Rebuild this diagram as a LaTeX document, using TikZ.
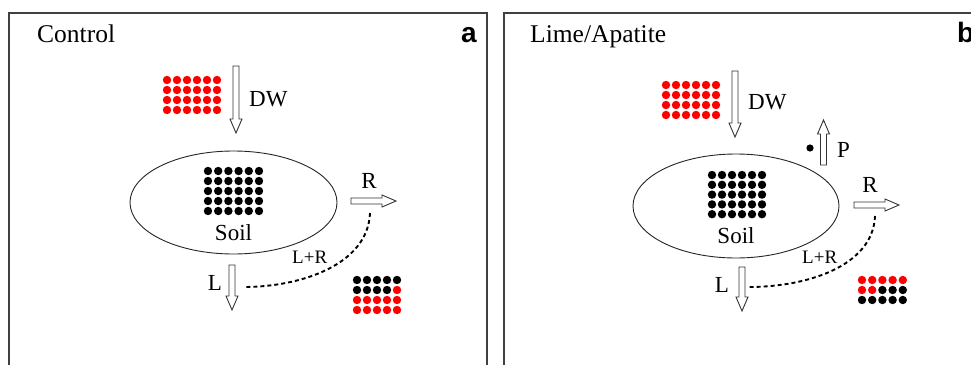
\documentclass[tikz,border=0pt]{standalone}
\usepackage{fontspec}
\setmainfont{Liberation Serif}
\newfontfamily\labsans{Liberation Sans}
\begin{document}
\begin{tikzpicture}[x=1pt,y=-1pt,
  frameline/.style={line width=1.4pt,draw=black!75},
  soilline/.style={line width=0.9pt,draw=black!85},
  arrowline/.style={line width=0.9pt,draw=black!80,fill=white},
  flowline/.style={line width=1.9pt,dash pattern=on 4pt off 3pt},
  title/.style={font=\fontsize{25.5}{28}\selectfont,inner sep=0pt},
  panel/.style={font=\labsans\bfseries\fontsize{28}{30}\selectfont,inner sep=0pt},
  lab/.style={font=\fontsize{23}{25}\selectfont,inner sep=0pt},
  smalllab/.style={font=\fontsize{19}{21}\selectfont,inner sep=0pt}]
\useasboundingbox (0,0) rectangle (971,364);
\clip (0,0) rectangle (971,364);
\fill[white] (0,0) rectangle (971,364);

% hollow arrow: x y length angle
\newcommand\hollowarrow[4]{%
  \begin{scope}[shift={(#1,#2)},rotate=#4]
    \draw[arrowline] (0,-3) -- (#3-14,-3) -- (#3-14,-6) -- (#3,0) -- (#3-14,6) -- (#3-14,3) -- (0,3) -- cycle;
  \end{scope}}
\newcommand\dotrow[6]{% x0 y dx n colour radius
  \foreach \i in {1,...,#4} {\fill[#5] ({#1+(\i-1)*#3},#2) circle (#6);}}

% ---------- frames ----------
\draw[frameline] (9,420) -- (9,13) -- (487,13) -- (487,420);
\draw[frameline] (504,420) -- (504,13) -- (1000,13);

% ---------- panel a ----------
\node[title,anchor=base west] (ttla) at (37,42) {Control};
\node[panel,anchor=base east] (pa) at (477,42) {a};

\foreach \j in {0,...,3} {\dotrow{167}{80+10*\j}{10}{6}{red}{4.2}}
\hollowarrow{236}{66}{67}{-90}
\node[lab,anchor=base west] (dwa) at (249,106) {DW};

\draw[soilline] (233.5,202.5) ellipse [x radius=103.5, y radius=51.5];
\foreach \j in {0,...,4} {\dotrow{208}{171+10*\j}{10.2}{6}{black}{4.2}}
\node[lab,anchor=base] (soila) at (233.5,240) {Soil};

\hollowarrow{351}{201}{45}{0}
\node[lab,anchor=base] (ra) at (369,188) {R};

\hollowarrow{232}{265}{45}{-90}
\node[lab,anchor=base east] (la) at (222,290) {L};

\node[smalllab,anchor=base west] (lra) at (292,263) {L+R};
\draw[flowline] (370,213) .. controls (368,265) and (300,287) .. (244,287);

\dotrow{357}{280}{10}{5}{black}{4.2}
\dotrow{357}{290}{10}{4}{black}{4.2}
\fill[red] (397,290) circle (4.2);
\dotrow{357}{300}{10}{5}{red}{4.2}
\dotrow{357}{310}{10}{5}{red}{4.2}

% ---------- panel b ----------
\node[title,anchor=base west] (ttlb) at (530,42) {Lime/Apatite};
\node[panel,anchor=base west] (pb) at (957,42) {b};

\foreach \j in {0,...,3} {\dotrow{666}{85+10*\j}{10}{6}{red}{4.2}}
\hollowarrow{735}{71}{66}{-90}
\node[lab,anchor=base west] (dwb) at (748,109) {DW};

\hollowarrow{823.5}{165}{45}{90}
\fill (810,148) circle (3.6);
\node[lab,anchor=base west] (pl) at (837,157) {P};

\draw[soilline] (736,206) ellipse [x radius=103, y radius=52];
\foreach \j in {0,...,4} {\dotrow{712}{175+9.8*\j}{10}{6}{black}{4.2}}
\node[lab,anchor=base] (soilb) at (736,243) {Soil};

\hollowarrow{854}{205}{45}{0}
\node[lab,anchor=base] (rb) at (870,192) {R};

\hollowarrow{742}{267}{44}{-90}
\node[lab,anchor=base east] (lb) at (729,292) {L};

\node[smalllab,anchor=base west] (lrb) at (802,263) {L+R};
\draw[flowline] (875,216) .. controls (873,267) and (805,287) .. (749,287);

\dotrow{862}{280}{10.2}{5}{red}{4.2}
\dotrow{862}{290}{10.2}{2}{red}{4.2}
\foreach \i in {2,3,4} {\fill (862+10.2*\i,290) circle (4.2);}
\dotrow{862}{300}{10.2}{5}{black}{4.2}
\end{tikzpicture}
\end{document}
